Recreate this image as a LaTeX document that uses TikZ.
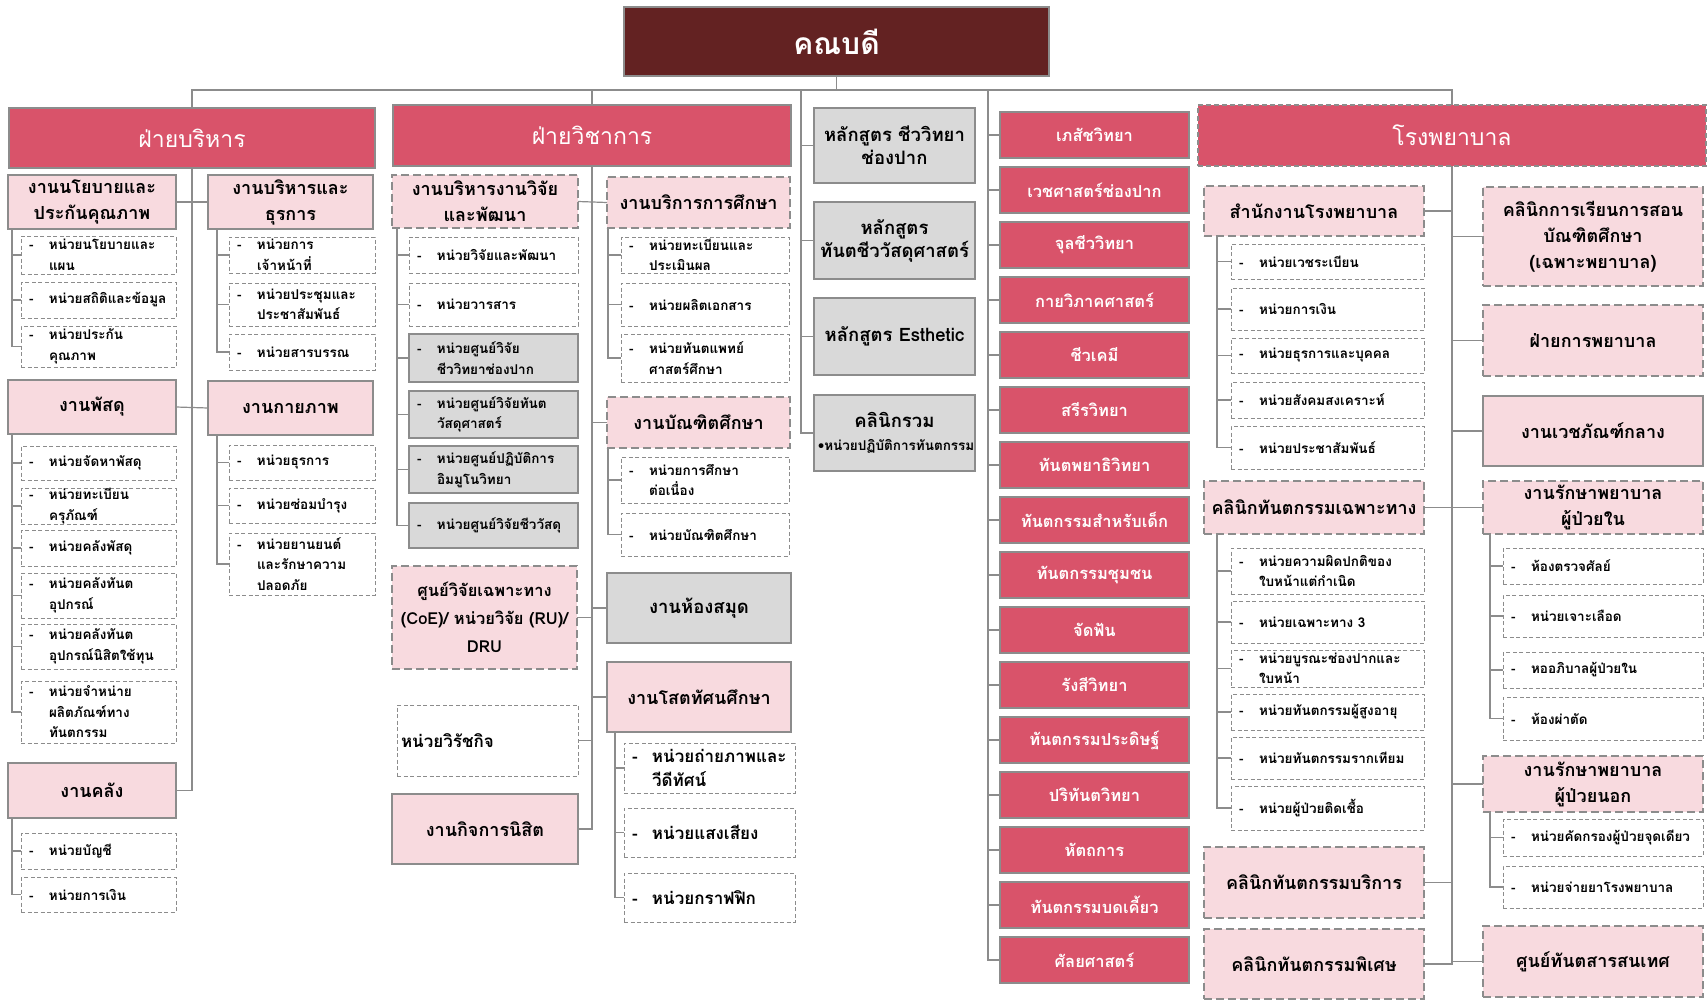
\documentclass[tikz,border=0pt]{standalone}
\usepackage{fontspec}
\setmainfont[Script=Thai]{Loma}
\definecolor{deanc}{HTML}{632222}
\definecolor{redc}{HTML}{D9536A}
\definecolor{pinkc}{HTML}{F8DADF}
\definecolor{greyc}{HTML}{D9D9D9}
\definecolor{bordc}{HTML}{8C8C8C}
\definecolor{linec}{HTML}{8C8C8C}
\tikzset{
 base/.style={rectangle, inner sep=0pt, outer sep=0pt},
 deanbox/.style={base, fill=deanc, draw=bordc, line width=1.5pt, text=white, font=\fontsize{30}{34}\selectfont\bfseries},
 divbox/.style={base, fill=redc, draw=bordc, line width=1.5pt, text=white, font=\fontsize{23}{27}\selectfont},
 hospbox/.style={divbox, dash pattern=on 5pt off 3pt},
 deptbox/.style={base, fill=redc, draw=bordc, line width=1.5pt, text=white, font=\fontsize{16.5}{20}\selectfont\bfseries},
 greybox/.style={base, fill=greyc, draw=bordc, line width=1.5pt, font=\fontsize{18.5}{23}\selectfont\bfseries},
 pinkbox/.style={base, fill=pinkc, draw=bordc, line width=1.5pt, font=\fontsize{18}{26}\selectfont\bfseries},
 pinkdash/.style={pinkbox, dash pattern=on 8pt off 4pt},
 coebox/.style={pinkdash, font=\fontsize{16.5}{28}\selectfont\bfseries},
 itembox/.style={base, fill=white, draw=bordc, line width=1pt, dash pattern=on 4pt off 2.5pt, font=\fontsize{13.5}{20.5}\selectfont\bfseries},
 itemgrey/.style={itembox, fill=greyc, solid, line width=1.5pt},
 itemav/.style={itembox, font=\fontsize{17}{24}\selectfont\bfseries},
 intlbox/.style={itembox, font=\fontsize{17}{22}\selectfont\bfseries},
 ln/.style={draw=linec, line width=1.2pt},
}
\newcommand\itdash{\hspace*{4pt}\makebox[20pt][l]{-}}
\newcommand\itind{\hspace*{24pt}}
\newcommand\bx[7]{\pgfmathsetmacro\bw{#5-#3}\pgfmathsetmacro\bh{#6-#4}\pgfmathsetmacro\tw{#5-#3-8}%
 \node[#2,minimum width=\bw pt,minimum height=\bh pt,anchor=north west] (#1) at (#3,#4)
 {\parbox[c][\bh pt][c]{\tw pt}{\centering #7}};}
\newcommand\bl[7]{\pgfmathsetmacro\bw{#5-#3}\pgfmathsetmacro\bh{#6-#4}\pgfmathsetmacro\tw{#5-#3-8}%
 \node[#2,minimum width=\bw pt,minimum height=\bh pt,anchor=north west] (#1) at (#3,#4)
 {\parbox[c][\bh pt][c]{\tw pt}{\raggedright #7}};}
\newcommand\subtree[3]{\foreach \q in {#3} {\draw[ln] ([xshift=#2]#1.south west) |- (\q.west);}}
\begin{document}
\begin{tikzpicture}[x=1pt,y=-1pt]
\useasboundingbox[fill=white] (0,0) rectangle (1708,1001);
% top
\bx{dean}{deanbox}{624}{7}{1049}{76}{คณบดี}
\bx{admin}{divbox}{9}{108}{375}{168}{ฝ่ายบริหาร}
\bx{acad}{divbox}{393}{105}{791}{166}{ฝ่ายวิชาการ}
\bx{hosp}{hospbox}{1198}{105}{1706}{166}{โรงพยาบาล}
% admin
\bx{pol}{pinkbox}{8}{175}{176}{229}{งานนโยบายและ\\ประกันคุณภาพ}
\bx{gen}{pinkbox}{208}{175}{373}{229}{งานบริหารและ\\ธุรการ}
\bl{pol1}{itembox}{21}{236}{176}{274}{\itdash หน่วยนโยบายและ\\\itind แผน}
\bl{pol2}{itembox}{21}{282}{176}{318}{\itdash หน่วยสถิติและข้อมูล}
\bl{pol3}{itembox}{21}{326}{176}{367}{\itdash หน่วยประกัน\\\itind คุณภาพ}
\bl{gen1}{itembox}{229}{237}{375}{273}{\itdash หน่วยการ\\\itind เจ้าหน้าที่}
\bl{gen2}{itembox}{229}{283}{375}{326}{\itdash หน่วยประชุมและ\\\itind ประชาสัมพันธ์}
\bl{gen3}{itembox}{229}{334}{375}{370}{\itdash หน่วยสารบรรณ}
\bx{sup}{pinkbox}{8}{380}{176}{434}{งานพัสดุ}
\bx{phy}{pinkbox}{208}{381}{373}{435}{งานกายภาพ}
\bl{sup1}{itembox}{21}{446}{176}{480}{\itdash หน่วยจัดหาพัสดุ}
\bl{sup2}{itembox}{21}{488}{176}{524}{\itdash หน่วยทะเบียน\\\itind ครุภัณฑ์}
\bl{sup3}{itembox}{21}{530}{176}{566}{\itdash หน่วยคลังพัสดุ}
\bl{sup4}{itembox}{21}{573}{176}{618}{\itdash หน่วยคลังทันต\\\itind อุปกรณ์}
\bl{sup5}{itembox}{21}{624}{176}{669}{\itdash หน่วยคลังทันต\\\itind อุปกรณ์นิสิตใช้ทุน}
\bl{sup6}{itembox}{21}{681}{176}{743}{\itdash หน่วยจำหน่าย\\\itind ผลิตภัณฑ์ทาง\\\itind ทันตกรรม}
\bl{phy1}{itembox}{229}{445}{375}{480}{\itdash หน่วยธุรการ}
\bl{phy2}{itembox}{229}{488}{375}{523}{\itdash หน่วยซ่อมบำรุง}
\bl{phy3}{itembox}{229}{533}{375}{595}{\itdash หน่วยยานยนต์\\\itind และรักษาความ\\\itind ปลอดภัย}
\bx{fin}{pinkbox}{8}{763}{176}{818}{งานคลัง}
\bl{fin1}{itembox}{21}{833}{176}{869}{\itdash หน่วยบัญชี}
\bl{fin2}{itembox}{21}{877}{176}{912}{\itdash หน่วยการเงิน}
% academic
\bx{res}{pinkdash}{392}{175}{578}{228}{งานบริหารงานวิจัย\\และพัฒนา}
\bx{serv}{pinkdash}{607}{177}{790}{228}{งานบริการการศึกษา}
\bl{res1}{itembox}{409}{237}{578}{273}{\itdash หน่วยวิจัยและพัฒนา}
\bl{res2}{itembox}{409}{283}{578}{326}{\itdash หน่วยวารสาร}
\bl{res3}{itemgrey}{409}{334}{578}{382}{\itdash หน่วยศูนย์วิจัย\\\itind ชีววิทยาช่องปาก}
\bl{res4}{itemgrey}{409}{391}{578}{438}{\itdash หน่วยศูนย์วิจัยทันต\\\itind วัสดุศาสตร์}
\bl{res5}{itemgrey}{409}{446}{578}{493}{\itdash หน่วยศูนย์ปฏิบัติการ\\\itind อิมมูโนวิทยา}
\bl{res6}{itemgrey}{409}{503}{578}{548}{\itdash หน่วยศูนย์วิจัยชีววัสดุ}
\bl{serv1}{itembox}{621}{237}{789}{273}{\itdash หน่วยทะเบียนและ\\\itind ประเมินผล}
\bl{serv2}{itembox}{621}{283}{789}{326}{\itdash หน่วยผลิตเอกสาร}
\bl{serv3}{itembox}{621}{334}{789}{382}{\itdash หน่วยทันตแพทย์\\\itind ศาสตร์ศึกษา}
\bx{grad}{pinkdash}{607}{397}{790}{448}{งานบัณฑิตศึกษา}
\bl{grad1}{itembox}{621}{457}{789}{503}{\itdash หน่วยการศึกษา\\\itind ต่อเนื่อง}
\bl{grad2}{itembox}{621}{513}{789}{556}{\itdash หน่วยบัณฑิตศึกษา}
\bx{coe}{coebox}{392}{566}{577}{669}{ศูนย์วิจัยเฉพาะทาง\\(CoE)/ หน่วยวิจัย (RU)/\\DRU}
\bx{lib}{greybox}{607}{573}{791}{643}{งานห้องสมุด}
\bl{intl}{intlbox}{397}{705}{578}{776}{หน่วยวิรัชกิจ}
\bx{av}{pinkbox}{607}{662}{791}{732}{งานโสตทัศนศึกษา}
\bl{av1}{itemav}{624}{743}{795}{793}{\itdash หน่วยถ่ายภาพและ\\\itind วีดีทัศน์}
\bl{av2}{itemav}{624}{808}{795}{857}{\itdash หน่วยแสงเสียง}
\bl{av3}{itemav}{624}{873}{795}{922}{\itdash หน่วยกราฟฟิก}
\bx{stu}{pinkbox}{392}{794}{578}{864}{งานกิจการนิสิต}
% curricula
\bx{c1}{greybox}{814}{108}{975}{183}{หลักสูตร ชีววิทยา\\ช่องปาก}
\bx{c2}{greybox}{814}{202}{975}{279}{หลักสูตร\\ทันตชีววัสดุศาสตร์}
\bx{c3}{greybox}{814}{298}{975}{375}{หลักสูตร Esthetic}
\bx{c4}{greybox}{814}{395}{975}{471}{คลินิกรวม\\{\fontsize{13.5}{16}\selectfont •หน่วยปฏิบัติการทันตกรรม}}
% departments
\foreach \t [count=\k] in {เภสัชวิทยา,เวชศาสตร์ช่องปาก,จุลชีววิทยา,กายวิภาคศาสตร์,ชีวเคมี,สรีรวิทยา,ทันตพยาธิวิทยา,ทันตกรรมสำหรับเด็ก,ทันตกรรมชุมชน,จัดฟัน,รังสีวิทยา,ทันตกรรมประดิษฐ์,ปริทันตวิทยา,หัตถการ,ทันตกรรมบดเคี้ยว,ศัลยศาสตร์}{
 \pgfmathsetmacro\yy{112+55*(\k-1)}
 \node[deptbox,minimum width=189pt,minimum height=46pt,anchor=north west] (d\k) at (1000,\yy) {\t};
}
% hospital
\bx{off}{pinkdash}{1204}{186}{1424}{236}{สำนักงานโรงพยาบาล}
\bl{off1}{itembox}{1231}{244}{1424}{279}{\itdash หน่วยเวชระเบียน}
\bl{off2}{itembox}{1231}{288}{1424}{330}{\itdash หน่วยการเงิน}
\bl{off3}{itembox}{1231}{338}{1424}{373}{\itdash หน่วยธุรการและบุคคล}
\bl{off4}{itembox}{1231}{382}{1424}{418}{\itdash หน่วยสังคมสงเคราะห์}
\bl{off5}{itembox}{1231}{426}{1424}{469}{\itdash หน่วยประชาสัมพันธ์}
\bx{spc}{pinkdash}{1204}{481}{1424}{534}{คลินิกทันตกรรมเฉพาะทาง}
\bl{spc1}{itembox}{1231}{548}{1424}{594}{\itdash หน่วยความผิดปกติของ\\\itind ใบหน้าแต่กำเนิด}
\bl{spc2}{itembox}{1231}{601}{1424}{643}{\itdash หน่วยเฉพาะทาง 3}
\bl{spc3}{itembox}{1231}{650}{1424}{687}{\itdash หน่วยบูรณะช่องปากและ\\\itind ใบหน้า}
\bl{spc4}{itembox}{1231}{694}{1424}{730}{\itdash หน่วยทันตกรรมผู้สูงอายุ}
\bl{spc5}{itembox}{1231}{737}{1424}{779}{\itdash หน่วยทันตกรรมรากเทียม}
\bl{spc6}{itembox}{1231}{786}{1424}{830}{\itdash หน่วยผู้ป่วยติดเชื้อ}
\bx{svc}{pinkdash}{1204}{847}{1424}{918}{คลินิกทันตกรรมบริการ}
\bx{sp2}{pinkdash}{1204}{929}{1424}{999}{คลินิกทันตกรรมพิเศษ}
\bx{gcl}{pinkdash}{1483}{187}{1703}{286}{คลินิกการเรียนการสอน\\บัณฑิตศึกษา\\(เฉพาะพยาบาล)}
\bx{nur}{pinkdash}{1483}{305}{1703}{376}{ฝ่ายการพยาบาล}
\bx{cen}{pinkbox}{1483}{396}{1703}{466}{งานเวชภัณฑ์กลาง}
\bx{inp}{pinkdash}{1483}{481}{1703}{534}{งานรักษาพยาบาล\\ผู้ป่วยใน}
\bl{inp1}{itembox}{1503}{548}{1703}{584}{\itdash ห้องตรวจศัลย์}
\bl{inp2}{itembox}{1503}{595}{1703}{637}{\itdash หน่วยเจาะเลือด}
\bl{inp3}{itembox}{1503}{652}{1703}{688}{\itdash หออภิบาลผู้ป่วยใน}
\bl{inp4}{itembox}{1503}{697}{1703}{740}{\itdash ห้องผ่าตัด}
\bx{outp}{pinkdash}{1483}{756}{1703}{812}{งานรักษาพยาบาล\\ผู้ป่วยนอก}
\bl{outp1}{itembox}{1503}{819}{1703}{856}{\itdash หน่วยคัดกรองผู้ป่วยจุดเดียว}
\bl{outp2}{itembox}{1503}{866}{1703}{908}{\itdash หน่วยจ่ายยาโรงพยาบาล}
\bx{info}{pinkdash}{1483}{926}{1703}{997}{ศูนย์ทันตสารสนเทศ}
% ---- connectors
\coordinate (hb) at (0,90);
\coordinate (gt) at (801,90);
\coordinate (rt) at (988,90);
\draw[ln] (dean.south) -- (dean.south |- hb);
\draw[ln] (admin.north) -- (admin.north |- hb) -- (hosp.north |- hb) -- (hosp.north);
\draw[ln] (acad.north |- hb) -- (acad.north);
\draw[ln] (gt) -- (gt |- c4.west) -- (c4.west);
\foreach \n in {c1,c2,c3} {\draw[ln] (gt |- \n.west) -- (\n.west);}
\draw[ln] (rt) -- (rt |- d16.west) -- (d16.west);
\foreach \k in {1,...,15} {\draw[ln] (rt |- d\k.west) -- (d\k.west);}
% admin
\draw[ln] (admin.south) -- (admin.south |- fin.east) -- (fin.east);
\draw[ln] (pol.east) -- (gen.west);
\draw[ln] (sup.east) -- (phy.west);
\subtree{pol}{4pt}{pol1,pol2,pol3}
\subtree{gen}{9pt}{gen1,gen2,gen3}
\subtree{sup}{4pt}{sup1,sup2,sup3,sup4,sup5,sup6}
\subtree{phy}{9pt}{phy1,phy2,phy3}
\subtree{fin}{4pt}{fin1,fin2}
% academic
\draw[ln] (acad.south) -- (acad.south |- stu.east) -- (stu.east);
\draw[ln] (res.east) -- (serv.west);
\foreach \n in {grad,lib,av} {\draw[ln] (acad.south |- \n.west) -- (\n.west);}
\foreach \n in {coe,intl} {\draw[ln] (acad.south |- \n.east) -- (\n.east);}
\subtree{res}{5pt}{res1,res2,res3,res4,res5,res6}
\subtree{serv}{1pt}{serv1,serv2,serv3}
\subtree{grad}{1pt}{grad1,grad2}
\subtree{av}{8pt}{av1,av2,av3}
% hospital
\draw[ln] (hosp.south) -- (hosp.south |- sp2.east) -- (sp2.east);
\foreach \n in {off,spc,svc} {\draw[ln] (hosp.south |- \n.east) -- (\n.east);}
\foreach \n in {gcl,nur,cen,inp,outp,info} {\draw[ln] (hosp.south |- \n.west) -- (\n.west);}
\subtree{off}{13pt}{off1,off2,off3,off4,off5}
\subtree{spc}{13pt}{spc1,spc2,spc3,spc4,spc5,spc6}
\subtree{inp}{7pt}{inp1,inp2,inp3,inp4}
\subtree{outp}{7pt}{outp1,outp2}
\end{tikzpicture}
\end{document}
